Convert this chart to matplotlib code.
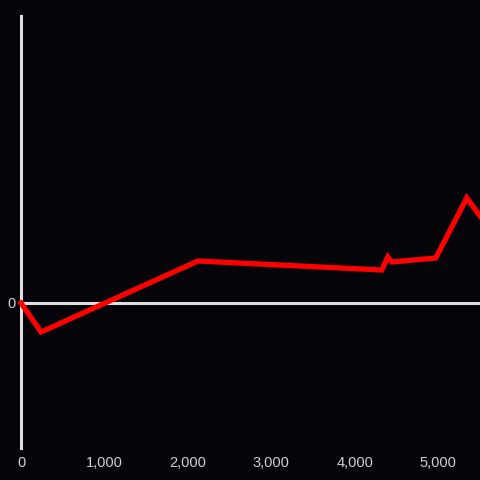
import matplotlib
matplotlib.use("Agg")
import matplotlib.pyplot as plt

# values (y in arbitrary units)
xs = [0, 240, 2120, 4323, 4395, 4443, 4970, 5341, 5500]
ys = [0, -29, 42, 33, 46, 41, 45, 105, 87]

bg = '#050408'
axis_col = '#e0e0e0'
text_col = '#d0d0d0'

plt.rcParams['font.family'] = ['Liberation Sans', 'DejaVu Sans']

fig = plt.figure(figsize=(4.8, 4.8), dpi=100, facecolor=bg)
ax = fig.add_axes([21 / 480, 32 / 480, 1 - 21 / 480, 432 / 480])
ax.set_facecolor(bg)

ax.plot(xs, ys, color='#ff0000', lw=3.8, solid_joinstyle='miter', zorder=3, clip_on=False)
ax.axhline(0, color=axis_col, lw=2.2, zorder=2)

ax.set_xlim(0, 5500)
ax.set_ylim(-145, 287)

for s in ['top', 'right', 'bottom']:
    ax.spines[s].set_visible(False)
ax.spines['left'].set_color(axis_col)
ax.spines['left'].set_linewidth(2.2)

ax.set_xticks([0, 1000, 2000, 3000, 4000, 5000])
ax.set_xticklabels(['0', '1,000', '2,000', '3,000', '4,000', '5,000'])
ax.set_yticks([0])
ax.set_yticklabels(['0'])
ax.tick_params(colors=text_col, labelsize=10.5, length=0)
ax.tick_params(axis='x', pad=6)
ax.tick_params(axis='y', pad=4)

fig.savefig('out.png', dpi=100, facecolor=bg)
